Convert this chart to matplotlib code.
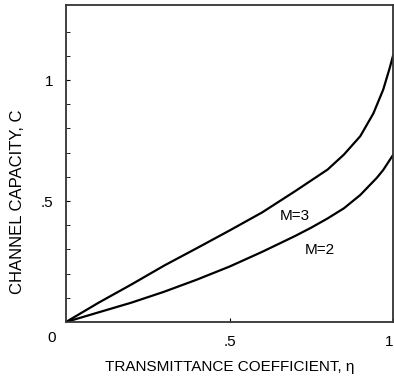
import matplotlib
matplotlib.use('Agg')
import matplotlib.pyplot as plt
import numpy as np

plt.rcParams['font.family'] = ['Liberation Sans', 'DejaVu Sans']

# transmittance coefficient and capacity
eta_m3 = [0, 0.1, 0.2, 0.3, 0.4, 0.5, 0.6, 0.7, 0.75, 0.8, 0.85, 0.9, 0.94, 0.97, 0.99, 1.0]
cap_m3 = [0, 0.08, 0.155, 0.233, 0.305, 0.378, 0.453, 0.54, 0.585, 0.63, 0.692, 0.768, 0.862, 0.96, 1.05, 1.10]
eta_m2 = [0, 0.1, 0.2, 0.3, 0.4, 0.5, 0.6, 0.7, 0.75, 0.8, 0.85, 0.9, 0.95, 0.97, 1.0]
cap_m2 = [0, 0.04, 0.08, 0.125, 0.175, 0.229, 0.29, 0.355, 0.39, 0.428, 0.47, 0.525, 0.595, 0.628, 0.69]

curve_labels = ['M=3', 'M=2']
label_pos = [(0.70, 0.44), (0.777, 0.298)]

fig = plt.figure(figsize=(3.94, 3.77), dpi=100)
ax = fig.add_axes([66/394, 55/377, 327/394, 317/377])

ax.plot(eta_m3, cap_m3, color='black', lw=1.6)
ax.plot(eta_m2, cap_m2, color='black', lw=1.6)
for lab, (x, y) in zip(curve_labels, label_pos):
    ax.text(x, y, lab, ha='center', va='center', fontsize=11)

ax.set_xlim(0, 1)
ax.set_ylim(0, 1.31)

ax.set_xticks([0.5, 1.0])
ax.set_xticklabels(['.5', '1'])
ax.get_xticklabels()[1].set_horizontalalignment('right')
ax.set_yticks([0.5, 1.0])
ax.set_yticklabels(['.5', '1'])
ax.set_yticks(np.arange(0.1, 1.3, 0.1), minor=True)
ax.tick_params(axis='both', which='both', direction='in', labelsize=11, pad=9)
ax.tick_params(axis='both', which='major', length=3)
ax.tick_params(axis='y', which='minor', length=3)
ax.text(-0.045, -0.05, '0', transform=ax.transAxes, ha='center', va='center', fontsize=11)

for s in ax.spines.values():
    s.set_linewidth(1.3)
    s.set_color('#333333')

ax.set_xlabel('TRANSMITTANCE COEFFICIENT, η', fontsize=11, labelpad=8)
ax.set_ylabel('CHANNEL CAPACITY, C', fontsize=12)
ax.yaxis.set_label_coords(-0.125, 0.38)

fig.savefig('out.png', dpi=100)
